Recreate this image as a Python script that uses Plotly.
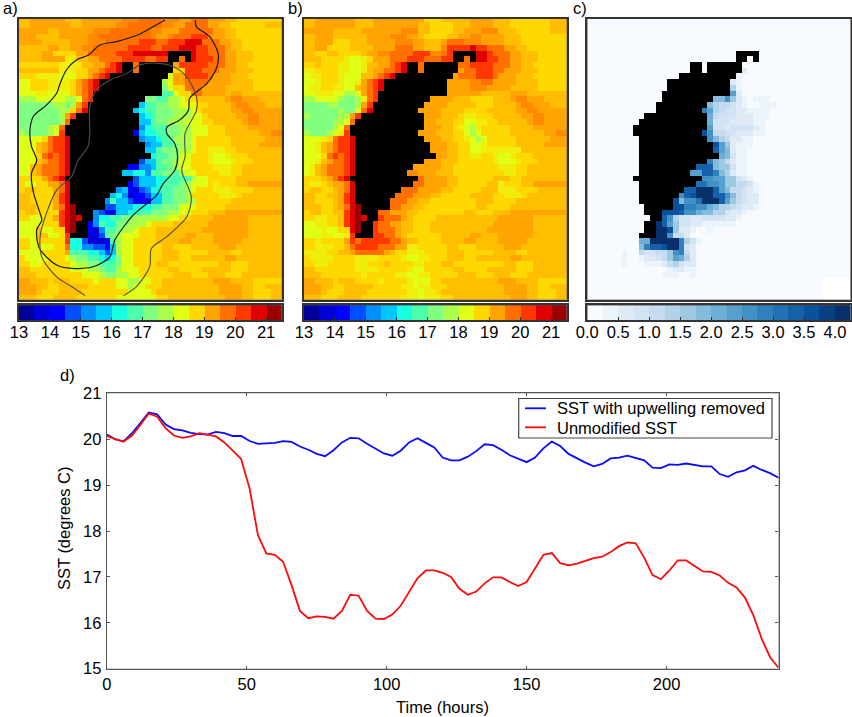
import re
import numpy as np
import plotly.graph_objects as go

W, H = 852, 717

# Line chart values, one reading every 3 hours
hours = list(range(0, 243, 3))
sst_removed = [20.10, 20.00, 19.95, 20.13, 20.35, 20.58, 20.54, 20.32, 20.22, 20.19, 20.14, 20.11, 20.10, 20.16,
               20.13, 20.07, 20.07, 19.96, 19.90, 19.91, 19.92, 19.96, 19.94, 19.84, 19.77, 19.68, 19.63, 19.76,
               19.93, 20.03, 20.02, 19.90, 19.79, 19.69, 19.64, 19.75, 19.93, 20.02, 19.92, 19.82, 19.60, 19.54,
               19.54, 19.62, 19.74, 19.89, 19.87, 19.77, 19.65, 19.58, 19.50, 19.60, 19.80, 19.95, 19.85, 19.68,
               19.58, 19.49, 19.41, 19.46, 19.58, 19.60, 19.64, 19.59, 19.54, 19.38, 19.37, 19.45, 19.44, 19.47,
               19.44, 19.41, 19.41, 19.24, 19.18, 19.28, 19.32, 19.42, 19.33, 19.26, 19.16]
sst_unmodified = [20.07, 20.00, 19.95, 20.08, 20.31, 20.56, 20.49, 20.24, 20.08, 20.03, 20.06, 20.13, 20.10, 20.06,
                  19.93, 19.74, 19.57, 18.93, 17.91, 17.51, 17.48, 17.33, 16.82, 16.26, 16.10, 16.14, 16.13, 16.09,
                  16.26, 16.61, 16.59, 16.26, 16.09, 16.08, 16.18, 16.37, 16.66, 16.97, 17.14, 17.14, 17.09, 17.00,
                  16.74, 16.61, 16.68, 16.86, 16.99, 16.99, 16.89, 16.80, 16.89, 17.19, 17.48, 17.52, 17.30, 17.25,
                  17.29, 17.35, 17.41, 17.44, 17.54, 17.67, 17.75, 17.73, 17.42, 17.04, 16.95, 17.14, 17.36, 17.36,
                  17.24, 17.12, 17.11, 17.03, 16.87, 16.77, 16.55, 16.17, 15.65, 15.25, 15.02]

# Colour levels, letter a is the first level
jet_levels = ["#00009b", "#0000d8", "#0000ff", "#0050ff", "#0090ff", "#00c8ff", "#17ffe0", "#4dffaa", "#80ff80",
              "#aaff4d", "#e0ff17", "#ffd800", "#ffa400", "#ff7000", "#ff3800", "#e00000", "#9b0000"]
blue_levels = ["#f7fbff", "#ebf3fb", "#deebf7", "#d2e3f3", "#c6dbef", "#b2d2e8", "#9ecae1", "#85bcdc", "#6baed6",
               "#57a0ce", "#4292c6", "#3181bd", "#2171b5", "#1461a8", "#08519c", "#084084", "#08306b"]
sst_ticks = [13, 14, 15, 16, 17, 18, 19, 20, 21]
diff_ticks = ["0.0", "0.5", "1.0", "1.5", "2.0", "2.5", "3.0", "3.5", "4.0"]

# Land cells: row, first column, last column
land_runs = [(6, 26, 29), (7, 26, 27), (7, 29, 29), (8, 18, 19), (8, 21, 26), (9, 18, 19), (9, 21, 26), (10, 16, 25),
             (11, 14, 24), (12, 14, 24), (13, 13, 24), (14, 13, 21), (15, 12, 20), (16, 12, 19), (17, 10, 20),
             (18, 9, 20), (19, 8, 20), (20, 8, 19), (21, 9, 20), (22, 9, 21), (23, 9, 21), (24, 9, 22), (25, 9, 20),
             (26, 9, 18), (27, 9, 17), (28, 8, 19), (29, 9, 18), (30, 9, 16), (31, 9, 15), (32, 9, 14), (33, 10, 14),
             (34, 10, 12), (35, 11, 12), (36, 10, 11), (37, 10, 11), (38, 9, 11)]

# Grids, one string per row: a level letter followed by the column where it starts.
# A capital letter sits half a level above the small one.
grid_a = [
    "L0 m2 L8 m11 M18 n21 M25 m28 n30 m33 L36 l38",
    "L0 m2 L9 m11 M17 n19 M25 m27 n29 m33 L35 l37 L43",
    "m0 L5 m7 M13 n16 M23 m25 n28 m34 L36 l38",
    "m0 L3 m7 M12 n14 M23 m24 M26 n27 o30 M33 m34 L36 l38",
    "m0 L4 m9 M12 n15 o21 n24 o26 p29 n32 m35 L37 l39",
    "L0 m5 L7 m9 M11 n13 o19 n23 o25 p28 o31 n33 m36 L37 l39",
    "L0 m4 l6 m10 n12 o17 p20 o26 p30 o31 n33 m36 L38 l41",
    "L0 m4 K8 L10 m12 n14 o18 n22 o24 n28 p30 o31 n34 m36 L38 l41",
    "l0 K7 L11 m13 n15 o16 p17 n20 m27 o28 n33 m36 L38 l40",
    "L0 K7 l10 m12 n14 o15 p17 n20 k26 l27 o29 n32 m35 L38 l41",
    "l0 K3 k7 l10 m12 n13 o14 p15 k26 m27 o29 n33 m34 L37 l40",
    "k0 l2 K5 l9 m10 n11 o12 p13 j25 k26 m27 n29 m33 L37 l41",
    "k0 l2 K5 l9 m10 n11 o12 p13 i25 k26 l27 n29 m32 L36 l41",
    "k0 K3 k5 l9 m10 n11 o12 h25 k27 l28 n30 m32 L36 m37 L39",
    "j0 k3 j8 k10 n11 o12 i22 h24 j26 k28 l29 L31 m36 M37 m39 L42",
    "i0 j6 i8 j9 m10 o11 f21 h22 i24 j26 k28 l31 L33 m37 M38 m40 L43",
    "i0 j7 l9 n10 p11 f20 g21 h22 i24 j27 k30 l31 L32 m37 M39 m41",
    "i0 j7 m8 o9 f21 g22 h23 i24 j27 k30 l32 L33 m38 M40 m42",
    "i0 j7 n8 f21 h23 i24 j26 k29 l32 L34 m39 M40 m42",
    "i0 j5 k6 n7 e21 g22 h23 i26 j28 k30 l33 L36 m40",
    "j0 i1 j5 k6 o7 c20 f21 g22 h24 i26 j28 k30 l33 L36 m42 M44",
    "k0 l4 n5 o6 p8 e21 f22 g24 h25 j27 k30 l31 L37 m43",
    "k0 L3 m4 n5 o6 p8 e22 f23 h25 i27 j28 k30 l31 L37 m42",
    "k0 L3 m4 n5 o6 p8 f22 h24 i25 j28 k30 l31 K33 l36 L38",
    "k0 l3 n4 o5 n6 o7 p8 g23 h24 i26 k28 l30 K33 k34 K36 l37 L40",
    "k0 L3 m4 n5 o7 p8 d21 f22 h24 i25 j27 k28 l30 K33 k34 K37 l38 L41",
    "k0 L2 m3 n4 o7 p8 c19 e21 f23 h24 i26 j27 k28 l30 K34 l37 L39",
    "k0 L2 m3 n4 o7 p8 f18 g20 e22 h23 i25 h27 j28 k29 l31 K35 l37 L39",
    "l0 m4 n5 o6 p7 d20 f21 g24 h26 j30 k31 l33 L38",
    "l0 k1 l3 m5 n7 p8 c19 d20 f21 g24 h25 i28 j29 k30 l33 K34 l35 L38 m40",
    "l0 L1 l3 m6 n7 p8 e17 f18 c19 b20 d21 e22 g23 h25 i27 j29 k30 l31 K34 l37 L41",
    "L0 l2 m6 o7 p8 f16 g17 e18 b19 c20 d22 f23 h25 i27 j29 l30 K35 l38 L39",
    "L0 l2 m6 o7 p8 e15 h16 f17 d19 c20 f23 h25 i27 j29 l31 L37",
    "L0 l3 m6 n7 p8 q9 d15 f17 g20 h23 i25 k28 l31 L36",
    "l0 L1 l3 o7 p8 q9 e13 d14 c15 f17 g19 h21 i23 j26 k28 l30 L33 m36",
    "l0 k2 l4 m6 o7 p8 q9 p10 e13 g14 h16 i18 j20 k26 l28 L30 m34 L40",
    "k0 l4 o7 p8 q9 c12 e13 h14 g15 i17 j19 k22 l23 L27 m33 L40",
    "k0 L3 k4 l6 p8 q9 c12 b13 e14 h15 i17 j18 k20 l21 L24 m32 L40",
    "k0 L3 k5 l7 o8 b12 d14 h15 i16 j17 k18 l21 L24 m29 L31 m34 L40",
    "l0 k2 l3 o8 g9 d11 b12 c15 h16 j17 k18 l20 L24 m28 L30 m34 L39",
    "l0 k2 l6 n8 g9 e11 d13 c15 f16 j17 k18 l20 L25 l27 L30 m35 L38",
    "k0 l4 m8 h9 g12 f14 d15 f16 j17 k18 l20 L25 l28 L33 l37 L39",
    "l0 k1 l5 k8 j9 i10 h12 g14 f15 g16 i17 k18 l20 L25 l28 L30 m36 L38",
    "l0 k2 l4 k9 j10 i12 h14 i17 k18 l20 L24 l26 L35 l37 L40",
    "L0 l2 k9 j12 i14 h15 j17 k18 l21 L26 l28 L32 l37 L40",
    "L0 l3 k11 j14 i15 j17 k19 l21 L27 l30 L33 l36 L39",
    "m0 L2 l5 L6 l9 k13 l14 k17 j19 k21 l23 L25 m34 L37 l41",
    "m0 L3 l5 L7 l12 k17 j19 k20 l22 L25 m35 L39 l41 L43",
    "m0 L3 l4 L7 l11 k19 l23 L24 m35 L39 l41 L44",
    "L0 l3 L6 l10 k17 l24 L26 m36 L39 l41 L44",
]

grid_b = [
    "L0 m2 L9 m12 l21 L24 m29 L33 l36 L43",
    "L0 m2 L9 m12 L20 l22 L26 m29 L33 l36 L43",
    "m0 L5 m10 M17 L20 l22 L26 m28 M31 L34 l37 L43",
    "L0 m2 L5 m11 M15 m18 L20 l21 L25 m27 M29 m31 L35 l38",
    "L0 m2 l5 L8 m11 M16 m19 L21 m24 n25 M28 m31 L35 l38",
    "L0 m2 l4 L8 m12 n16 m19 L21 M24 o25 p29 o30 n32 m35 L37 l39",
    "L0 l2 L4 l6 L10 m11 M13 n15 o19 M22 n24 o25 p30 o32 n33 m36 L38 l41",
    "L0 l3 K7 k8 K10 l11 m12 n15 o18 n21 o24 n28 p30 o32 n34 m36 L38 l41",
    "l0 L2 l3 K6 k8 K10 L11 m13 n15 o16 p17 n20 n27 o29 n33 m36 L38 l40",
    "K0 l2 K6 k8 K10 L11 m12 n14 o16 p17 n20 m27 n28 o30 n33 m35 L38 l41",
    "k0 K1 l3 K6 k7 L10 m12 n13 o14 p15 m26 n27 o30 n33 m34 L37 l40",
    "k0 K2 l3 K6 k7 K9 m10 n11 o12 p13 m25 M29 n31 m33 L37 l41",
    "k0 K1 l3 K5 k7 L9 m10 n11 o12 p13 m25 M29 m32 L36 l41",
    "k0 K2 k5 j7 k9 m10 n11 o12 m25 L31 m36 L39",
    "j0 k2 j6 i7 j9 K10 n11 o12 m22 L26 l29 L33 m36 M37 m39 L42",
    "i0 j4 i6 j9 m10 o11 m21 L25 l30 L33 m37 M38 m40 L43",
    "i0 j6 i7 k9 n10 p11 m20 L24 l28 L32 m37 M39 m41",
    "j0 i1 j6 m8 o9 m21 L24 l27 K28 l30 L33 m38 M40 m42",
    "i0 j5 k7 n8 m21 L23 l26 k28 K30 l32 L34 m39 M40 m42",
    "i0 j5 k6 n7 m21 L24 l26 K27 k28 j29 K30 l31 L36 m40",
    "j0 i1 j4 k5 K6 o7 m20 L23 l26 k28 j29 k30 l31 L36 m42 M44",
    "k0 K3 l4 n5 o6 p8 m21 L24 l26 K28 k29 j30 k31 l32 L37 m43",
    "k0 K2 L3 m4 n5 o6 p8 m22 L25 l27 k29 K31 l32 L37 m42",
    "k0 K2 L3 m4 n5 o6 p8 m22 L25 l27 k29 K31 K33 L38",
    "k0 l3 n4 o5 n6 o7 p8 m23 L25 l27 K29 l31 K33 k34 K36 l37 L40",
    "k0 K2 L3 m4 n5 o7 p8 m21 L24 l27 K33 k34 K37 l38 L41",
    "k0 K1 L2 m3 n4 o7 p8 m19 L24 l26 K34 l37 L39",
    "k0 K1 L2 m3 n4 o7 p8 M18 m20 L23 l26 K35 l37 L39",
    "l0 L3 m4 n5 o6 p7 n20 m21 L25 l27 L33 l36 L38",
    "l0 K1 l3 L4 m5 n7 p8 n19 m21 L25 l27 L32 K34 l35 L38 m40",
    "l0 L1 l3 L5 m6 n7 p8 n17 m20 L24 l26 L31 K34 l37 L41",
    "L0 l2 L4 m6 o7 p8 n16 m19 L22 l24 L29 l33 K35 l38 L39",
    "L0 l2 L5 m6 o7 p8 n15 m18 L20 l22 L30 l33 L37",
    "L0 l3 L5 m6 n7 p8 q9 n15 m17 L19 l21 L30 l32 L36",
    "l0 L1 l3 L5 o7 p8 q9 n13 m15 L18 l20 L28 l30 L33 m36",
    "l0 K2 l4 L6 o7 p8 q9 p10 o13 n14 m17 L18 l19 L23 m34 L40",
    "k0 K2 l4 L6 o7 p8 q9 o12 n13 m15 L17 l19 L22 m33 L40",
    "k0 K3 k4 l6 p8 q9 o12 n13 m16 L17 l19 L22 m32 L40",
    "k0 K3 k5 K7 o8 o12 n14 m16 L17 l18 L24 m29 L31 m34 L40",
    "l0 K2 l3 m7 o8 n9 o10 n15 m17 L18 l20 L24 m28 L30 m34 L39",
    "l0 K2 l5 L7 n8 o9 n13 m16 K18 l20 L25 l27 L30 m35 L38",
    "K0 l4 L6 m8 n9 m14 L15 l16 K18 l21 L25 l28 L33 l37 L39",
    "l0 K1 l5 K9 l13 K17 k18 K20 l22 L25 l28 L30 m36 L38",
    "l0 K2 l4 K9 l11 L14 l15 K19 l21 L24 l26 L35 l37 L40",
    "L0 l2 K9 l13 K18 k19 l21 L26 l28 L32 l37 L40",
    "L0 l3 K10 l11 K16 k18 K20 l22 L27 l30 L33 l36 L39",
    "m0 L2 l5 L6 l9 K13 l14 K18 k19 l22 L24 m34 L37 l41",
    "m0 L3 l5 L7 l12 K17 k19 K20 l22 L25 m35 L39 l41 L43",
    "m0 L3 l4 L7 l11 K18 k20 K21 l23 L24 m35 L39 l41 L44",
    "L0 l3 L6 l10 K17 k20 K21 l24 L26 m36 L39 l41 L44",
]

grid_c = [
    "a0", "a0", "a0", "a0", "a0", "a0", "a0", "a0", "a0",
    "a0 c27 a28",
    "a0 b26 a27",
    "a0 c25 b26 a27",
    "a0 f25 b26 a27",
    "a0 j25 c26 a27",
    "a0 h22 k24 g25 c26 b27 a28 b29 a32",
    "a0 h21 f22 e23 d25 c26 b27 a28 b30 a33",
    "a0 l20 j21 f22 e23 d24 c26 b28 a32",
    "a0 i21 e22 d23 c26 b29 a32",
    "a0 i21 d22 c25 b29 a31",
    "a0 j21 d22 c24 d25 c29 b30 a31",
    "a0 o20 k21 e22 d24 c26 b29 a31",
    "a0 k21 h22 f23 e24 c25 b27 a29",
    "a0 o22 j23 g24 c25 b26 a29",
    "a0 n22 j23 h24 c25 b26 a28",
    "a0 i23 h24 d25 b26 a28",
    "a0 l21 h22 g23 e24 c25 b26 a28",
    "a0 n19 h22 g23 d25 b26 a28",
    "a0 j18 n20 l22 h23 f24 c25 b26 a28",
    "a0 k20 j22 g24 d26 c27 b28 a29",
    "a0 m19 k21 j23 g24 e26 d28 b29 a30",
    "a0 n17 q19 n22 j23 h24 e25 d27 c28 b29 a30",
    "a0 k16 n17 o18 q19 n22 k24 h25 e26 d27 c28 a30",
    "a0 o15 h16 k17 m19 q20 n23 j24 g25 e26 d27 c28 a30",
    "a0 o15 l17 k19 i21 h22 f23 e25 d26 c27 b29 a30",
    "a0 o13 n16 k17 i19 h20 f22 d24 c25 b27 a28",
    "a0 n13 k14 f15 d16 c18 d20 c24 b26 a27",
    "a0 q12 n13 j14 g15 d16 c18 b20 a26",
    "a0 q12 o14 g15 c16 b18 a19 b21 a22",
    "a0 q12 k14 e15 c17 a18",
    "a0 i9 q11 l16 f17 d18 b19 a20",
    "a0 h9 l10 n11 o13 q14 l16 d17 c18 a19",
    "a0 b6 a7 e9 d10 e12 g14 k15 l16 e17 c18 a19",
    "a0 b6 a7 b9 c10 d12 e13 g14 j15 i16 f17 c18 a19",
    "a0 b6 a7 b10 c13 e14 f15 d16 c17 a19",
    "a0 b14 c15 b17 a19",
    "a0 b13 a16 b18 a19",
    "a0 _41", "a0 _41", "a0 _41", "a0 _41",
]

# Contours over panel a, in grid columns and rows
contour_dark_col = [25.6, 22.4, 20.9, 17.1, 14.2, 12.1, 10.1, 8.3, 7.2, 6.6, 4.8, 2.5, 1.9, 2.2, 3.1, 2.2, 2.5, 3.7,
                    4.0, 3.1, 3.6, 6.6, 9.2, 13.0, 15.9, 16.8, 20.0, 24.1, 25.3, 27.3, 27.8, 27.3, 25.9, 25.9, 28.2,
                    29.7, 29.9, 32.9, 34.6, 34.9, 33.4, 31.1, 30.9]
contour_dark_row = [0.6, 2.4, 3.2, 4.4, 5.0, 6.8, 7.6, 9.4, 11.8, 13.5, 15.6, 17.6, 20.3, 22.9, 25.3, 27.6, 30.9, 34.7,
                    35.9, 37.6, 40.9, 43.8, 44.4, 44.1, 42.4, 39.4, 35.0, 31.5, 29.4, 27.1, 24.7, 22.4, 20.6, 19.5,
                    18.2, 16.5, 14.4, 11.8, 9.1, 6.5, 3.5, 1.8, 0.6]
contour_grey_col = [18.3, 20.6, 22.9, 23.2, 25.9, 29.4, 30.2, 28.5, 29.1, 29.1, 31.1, 31.1, 29.4, 27.0, 24.1, 21.2,
                    18.9, 15.9, 13.6, 12.4, 12.4, 12.1, 10.4, 9.2, 6.6, 4.8, 3.7, 4.0, 6.6, 9.2, 11.6]
contour_grey_row = [49.2, 47.6, 44.1, 40.9, 38.8, 35.3, 31.8, 27.1, 24.7, 20.6, 16.5, 14.1, 10.6, 8.8, 8.2, 8.5, 10.0,
                    11.2, 12.9, 15.9, 20.6, 22.9, 25.3, 28.2, 30.6, 34.7, 38.8, 42.4, 45.9, 47.6, 49.2]

N_COLS, N_ROWS = 46, 50
FONT = "Liberation Sans"
TEXT_SIZE = 16.5


def decode(rows):
    # Turn the run strings into a level matrix; "_" is the blank level -1, land is NaN
    out = np.zeros((N_ROWS, N_COLS))
    for r, row in enumerate(rows):
        for letter, start in re.findall(r"([a-qA-Q_])(\d+)", row):
            if letter == "_":
                level = -1
            elif letter.isupper():
                level = ord(letter) - ord("A") + 0.5
            else:
                level = ord(letter) - ord("a")
            out[r, int(start):] = level
    for r, first, last in land_runs:
        out[r, first:last + 1] = np.nan
    return out


def steps(colors):
    # Discrete colour scale with one band per colour
    n = len(colors)
    scale = []
    for i, c in enumerate(colors):
        scale += [[i / n, c], [(i + 1) / n, c]]
    return scale


def blended(colors):
    # Colour scale that runs through the level centres, with a white band below the first level
    n = len(colors) + 1
    scale = [[0, "#ffffff"], [0.999 / n, "#ffffff"], [1 / n, colors[0]]]
    for i, c in enumerate(colors):
        scale.append([(i + 1.5) / n, c])
    scale.append([1, colors[-1]])
    return scale


def dom_x(a, b):
    return [a / W, b / W]


def dom_y(top, bottom):
    return [1 - bottom / H, 1 - top / H]


fig = go.Figure()

panels = [
    (grid_a, jet_levels, 13, 0.5, sst_ticks, 19, 281.5, ""),
    (grid_b, jet_levels, 13, 0.5, sst_ticks, 304, 566.5, "2"),
    (grid_c, blue_levels, 0, 0.25, diff_ticks, 587.3, 850.5, "3"),
]
axis_frame = dict(showline=True, mirror=True, linecolor="#333333", linewidth=1.5, showgrid=False, zeroline=False,
                  automargin=False)
chart_frame = dict(axis_frame, mirror="ticks", linecolor="#555555", linewidth=1.2)
tick_font = dict(size=TEXT_SIZE, color="black")
layout = {}
cols = np.arange(N_COLS) + 0.5
rows = np.arange(N_ROWS) + 0.5

for i, (grid, colors, low, step, ticks, x0, x1, suffix) in enumerate(panels):
    levels = decode(grid)
    z = low + step * (levels + 0.5)
    fig.add_trace(go.Heatmap(x=cols, y=rows, z=z, zmin=low - step, zmax=low + step * len(colors),
                             colorscale=blended(colors), showscale=False, hoverongaps=False,
                             xaxis="x" + suffix, yaxis="y" + suffix))
    layout["xaxis" + suffix] = dict(domain=dom_x(x0, x1), range=[0, N_COLS], showticklabels=False, ticks="",
                                    anchor="y" + suffix, **axis_frame)
    layout["yaxis" + suffix] = dict(domain=dom_y(19, 299.5), range=[49.88, 0.41], showticklabels=False, ticks="",
                                    anchor="x" + suffix, **axis_frame)

    # Colour bar below the panel
    bar_axis = str(i + 4)
    edges = low + step * np.arange(len(colors) + 1)
    fig.add_trace(go.Heatmap(x=edges, y=[0, 1], z=[(edges[:-1] + step / 2).tolist()], zmin=low,
                             zmax=low + step * len(colors), colorscale=steps(colors), showscale=False,
                             xaxis="x" + bar_axis, yaxis="y" + bar_axis))
    layout["xaxis" + bar_axis] = dict(domain=dom_x(x0, x1), range=[low, low + step * len(colors)], tickmode="array",
                                      tickvals=[float(t) for t in ticks], ticktext=[str(t) for t in ticks],
                                      ticks="inside", ticklen=3, tickcolor="#333333", tickfont=tick_font,
                                      ticklabelstandoff=-4, anchor="y" + bar_axis, **axis_frame)
    layout["yaxis" + bar_axis] = dict(domain=dom_y(305.3, 320), range=[0, 1], showticklabels=False, ticks="",
                                      anchor="x" + bar_axis, **axis_frame)

# Contours on panel a
fig.add_trace(go.Scatter(x=contour_dark_col, y=contour_dark_row, mode="lines", showlegend=False,
                         line=dict(color="#1a1a1a", width=1.2, shape="spline", smoothing=0.8), xaxis="x", yaxis="y"))
fig.add_trace(go.Scatter(x=contour_grey_col, y=contour_grey_row, mode="lines", showlegend=False,
                         line=dict(color="#4d4d4d", width=1.1, shape="spline", smoothing=0.8), xaxis="x", yaxis="y"))

# Time series
fig.add_trace(go.Scatter(x=hours, y=sst_removed, mode="lines", name="SST with upwelling removed", showlegend=False,
                         line=dict(color="#0a0aff", width=1.8), xaxis="x7", yaxis="y7"))
fig.add_trace(go.Scatter(x=hours, y=sst_unmodified, mode="lines", name="Unmodified SST", showlegend=False,
                         line=dict(color="#ff0a0a", width=1.8), xaxis="x7", yaxis="y7"))
layout["xaxis7"] = dict(domain=dom_x(106.8, 778.5), range=[0, 240], tickvals=[0, 50, 100, 150, 200], ticks="inside",
                        ticklen=3, tickcolor="#555555", tickfont=tick_font, ticklabelstandoff=0,
                        anchor="y7", **chart_frame)
layout["yaxis7"] = dict(domain=dom_y(393.3, 668.7), range=[15, 21], tickvals=[15, 16, 17, 18, 19, 20, 21],
                        ticks="inside", ticklen=3, tickcolor="#555555", tickfont=tick_font, ticklabelstandoff=1,
                        anchor="x7", **chart_frame)


def label(text, x, y, **extra):
    return dict(text=text, x=x / W, y=1 - y / H, xref="paper", yref="paper", xanchor="left", yanchor="middle",
                showarrow=False, font=dict(size=TEXT_SIZE, color="black"), **extra)


annotations = [label("a)", 1, 8), label("b)", 286, 8), label("c)", 571, 8), label("d)", 58, 375),
               label("SST with upwelling removed", 555, 408.5), label("Unmodified SST", 555, 428),
               dict(label("Time (hours)", 442, 707), xanchor="center"),
               dict(label("SST (degrees C)", 64, 528, textangle=-90), xanchor="center")]

# Legend box, drawn in page position so it keeps the reference's tight rows
shapes = [
    dict(type="rect", xref="x7 domain", yref="y7 domain", x0=0, x1=1, y0=0, y1=1, fillcolor="white", line_width=0,
         layer="below"),
    dict(type="rect", xref="paper", yref="paper", x0=518.7 / W, x1=772 / W, y0=1 - 438 / H, y1=1 - 398.5 / H,
         fillcolor="white", line=dict(color="#444444", width=1.2)),
    dict(type="line", xref="paper", yref="paper", x0=525 / W, x1=546 / W, y0=1 - 408.3 / H, y1=1 - 408.3 / H,
         line=dict(color="#0a0aff", width=1.8)),
    dict(type="line", xref="paper", yref="paper", x0=525 / W, x1=546 / W, y0=1 - 427.3 / H, y1=1 - 427.3 / H,
         line=dict(color="#ff0a0a", width=1.8)),
]

fig.update_layout(width=W, height=H, autosize=False, margin=dict(l=0, r=0, t=0, b=0), paper_bgcolor="white",
                  plot_bgcolor="black", font=dict(family=FONT, color="black"), annotations=annotations,
                  shapes=shapes, **layout)

# The page's default body margin would push the figure off the window
fig.write_html("out.html", config=dict(displayModeBar=False), post_script="document.body.style.margin = '0';")
